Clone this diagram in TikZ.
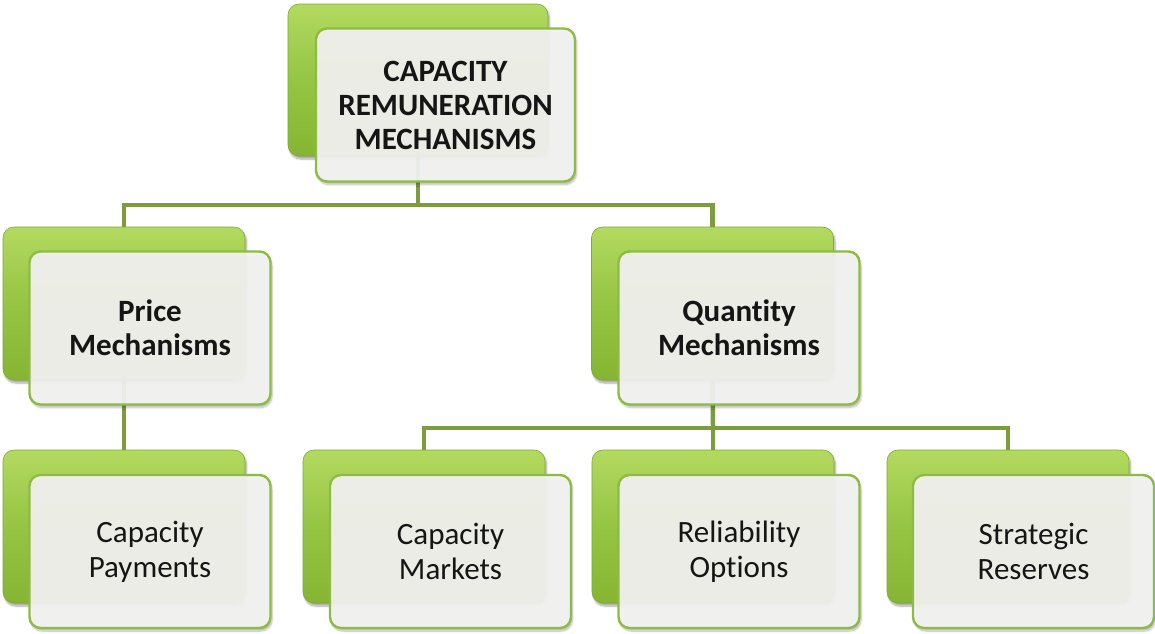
\documentclass[tikz,border=0pt]{standalone}
\usepackage{fontspec}
\setmainfont{Carlito}[Ligatures=NoCommon]
\usetikzlibrary{shadows.blur,backgrounds}
\definecolor{leafhi}{HTML}{B2DA60}
\definecolor{leafmid}{HTML}{96C443}
\definecolor{leaflo}{HTML}{86B534}
\definecolor{leafedge}{HTML}{7DA92F}
\definecolor{panel}{HTML}{F3F3F1}
\definecolor{panelrim}{HTML}{8DBB46}
\definecolor{wire}{HTML}{7C9C3E}
\definecolor{ink}{HTML}{151515}
\tikzset{
  backcard/.style={rounded corners=11pt, inner sep=0pt, outer sep=0pt,
    top color=leafhi, bottom color=leaflo, middle color=leafmid,
    draw=leafedge, line width=0.6pt,
    blur shadow={shadow xshift=1.5pt, shadow yshift=-3pt, shadow blur steps=8, shadow opacity=35},
    minimum width=242pt, minimum height=153pt},
  frontcard/.style={rounded corners=11pt, inner sep=0pt, outer sep=0pt,
    fill=panel, fill opacity=0.94, text opacity=1, draw=panelrim, line width=2.4pt,
    blur shadow={shadow xshift=1.5pt, shadow yshift=-3pt, shadow blur steps=8, shadow opacity=30},
    minimum width=241pt, minimum height=153pt, align=center, text=ink,
    font=\fontsize{31}{35}\selectfont},
  headcard/.style={frontcard, font=\fontsize{31}{34}\selectfont\bfseries},
  link/.style={draw=wire, line width=4.5pt}
}
\begin{document}
\begin{tikzpicture}[x=1pt, y=-1pt]
\useasboundingbox (0,0) rectangle (1155,633);

% level 0
\node[backcard, minimum width=260pt, minimum height=152pt] (topb) at (418,80) {};
\node[headcard, minimum width=259pt] (top) at (445.5,105) {CAPACITY\\REMUNERATION\\MECHANISMS};

% level 1
\node[backcard] (priceb) at (124,303.5) {};
\node[headcard] (price) at (150,328) {Price\\Mechanisms};
\node[backcard] (qtyb) at (712.5,303.5) {};
\node[headcard] (qty) at (739,328) {Quantity\\Mechanisms};

% level 2
\node[backcard] (payb) at (124,526.5) {};
\node[frontcard] (pay) at (150,551.5) {Capacity\\Payments};
\node[backcard] (mktb) at (424,526.5) {};
\node[frontcard] (mkt) at (450.5,551.5) {Capacity\\Markets};
\node[backcard] (relb) at (713,526.5) {};
\node[frontcard] (rel) at (739,551.5) {Reliability\\Options};
\node[backcard] (strb) at (1008,526.5) {};
\node[frontcard] (str) at (1033.5,551.5) {Strategic\\Reserves};

% connectors run behind the cards
\begin{scope}[on background layer]
  \coordinate (busA) at (418,205);
  \coordinate (busB) at (713,428);
  \draw[link] (topb.center) -- (busA);
  \draw[link] (priceb.center) |- (busA) -| (qtyb.center);
  \draw[link] (priceb.center) -- (payb.center);
  \draw[link] (qtyb.center) -- (busB);
  \draw[link] (mktb.center) |- (busB) -| (strb.center);
  \draw[link] (relb.center) -- (busB);
\end{scope}
\end{tikzpicture}
\end{document}
